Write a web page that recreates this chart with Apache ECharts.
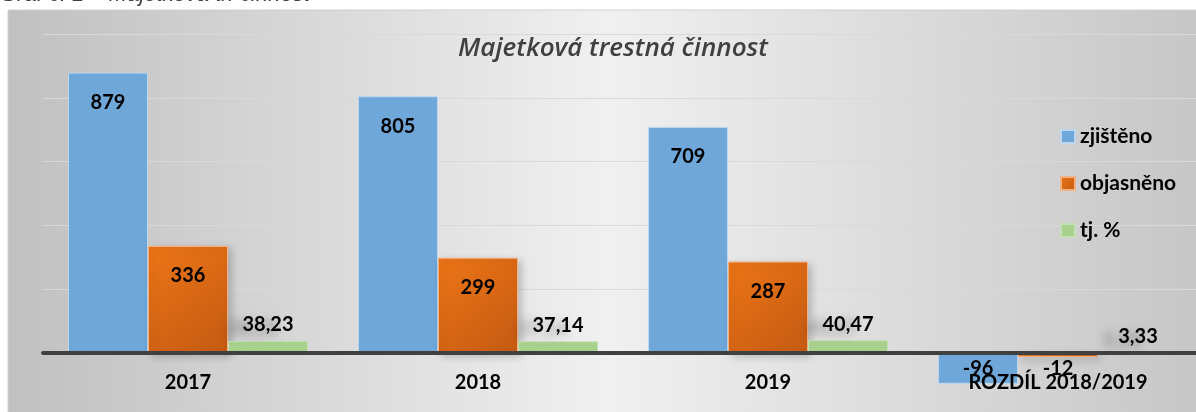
<!DOCTYPE html>
<html>
<head>
<meta charset="utf-8">
<script src="https://cdn.jsdelivr.net/npm/echarts@6/dist/echarts.min.js"></script>
<style>
  html, body { margin: 0; padding: 0; background: #fff; overflow: hidden; }
  #chart { width: 1196px; height: 412px; }
</style>
</head>
<body>
<div id="chart"></div>
<script>
    var categories = ['2017', '2018', '2019', 'ROZDÍL 2018/2019'];
    var seriesNames = ['zjištěno', 'objasněno', 'tj. %'];
    var zjisteno = [879, 805, 709, -96];
    var objasneno = [336, 299, 287, -12];
    var procenta = [38.23, 37.14, 40.47, 3.33];
    var yTicks = { min: -200, max: 1000, interval: 200 };

    var myChart = echarts.init(document.getElementById('chart'));

    var labelFont = { fontFamily: 'Lato', fontWeight: 'bold', fontSize: 20, color: '#000' };

    //zaporne hodnoty maji popisek hned pod osou
    function barData(arr) {
        return arr.map(function (v) {
            if (v < 0) {
                return { value: v, label: { position: 'insideTop', distance: 5 } };
            }
            return v;
        });
    }

    var option = {
        animation: false,
        graphic: [
            {
                type: 'rect',
                z: -10,
                shape: { x: 8, y: 10, width: 1200, height: 410 },
                style: {
                    fill: new echarts.graphic.LinearGradient(0, 0, 1, 0, [
                        { offset: 0, color: '#c0c0c0' },
                        { offset: 0.5, color: '#f0f0f0' },
                        { offset: 1, color: '#c6c6c6' }
                    ]),
                    stroke: '#d0d0d0',
                    lineWidth: 1
                }
            },
            {
                type: 'text',
                left: 0,
                top: -16,
                style: {
                    text: 'Graf č. 1 – Majetková tr. činnost',
                    font: 'italic 22px "Liberation Sans"',
                    fill: '#404040'
                }
            }
        ],
        title: {
            text: 'Majetková trestná činnost',
            left: 608,
            top: 31,
            textAlign: 'center',
            textStyle: {
                fontFamily: 'Open Sans',
                fontStyle: 'italic',
                fontWeight: 600,
                fontSize: 26,
                color: '#404040'
            }
        },
        legend: {
            orient: 'vertical',
            left: 1055,
            top: 121,
            itemWidth: 14,
            itemHeight: 13,
            itemGap: 26,
            icon: 'rect',
            data: seriesNames,
            textStyle: { fontFamily: 'Lato', fontWeight: 'bold', fontSize: 21, color: '#000', lineHeight: 20 }
        },
        grid: { left: 43, right: -7, top: 34, bottom: -5, containLabel: false, outerBoundsMode: 'none' },
        xAxis: {
            type: 'category',
            z: 5,
            data: categories,
            axisLine: { onZero: true, lineStyle: { color: '#404040', width: 4 } },
            axisTick: { show: false },
            //popisky se kresli od spodku gridu, ktery je mimo obrazek
            axisLabel: { margin: -44, fontFamily: 'Lato', fontWeight: 'bold', fontSize: 20, color: '#000', interval: 0 }
        },
        yAxis: {
            type: 'value',
            min: yTicks.min,
            max: yTicks.max,
            interval: yTicks.interval,
            axisLabel: { show: false },
            axisLine: { show: false },
            axisTick: { show: false },
            splitLine: { lineStyle: { color: '#d9d9d9', width: 1 } }
        },
        series: [
            {
                name: seriesNames[0],
                type: 'bar',
                barWidth: 80,
                barGap: '0%',
                data: barData(zjisteno),
                itemStyle: { color: '#6fa7d9', borderColor: '#bdd7ee', borderWidth: 1 },
                label: { show: true, position: 'insideTop', distance: 20, textStyle: labelFont }
            },
            {
                name: seriesNames[1],
                type: 'bar',
                barWidth: 80,
                barGap: '0%',
                data: barData(objasneno),
                itemStyle: {
                    color: new echarts.graphic.LinearGradient(0, 0, 1, 1, [
                        { offset: 0, color: '#ec7517' },
                        { offset: 1, color: '#c45a12' }
                    ]),
                    borderColor: '#f4b183',
                    borderWidth: 1,
                    shadowColor: 'rgba(0,0,0,0.2)',
                    shadowBlur: 8,
                    shadowOffsetX: 3,
                    shadowOffsetY: 3
                },
                label: { show: true, position: 'insideTop', distance: 20, textStyle: labelFont }
            },
            {
                name: seriesNames[2],
                type: 'bar',
                barWidth: 80,
                barGap: '0%',
                data: procenta,
                itemStyle: { color: '#a9d18e', borderColor: '#c5e0b4', borderWidth: 1 },
                label: {
                    show: true,
                    position: 'top',
                    distance: 6,
                    textStyle: labelFont,
                    textShadowColor: 'rgba(0,0,0,0.3)',
                    textShadowBlur: 8,
                    textShadowOffsetX: -16,
                    textShadowOffsetY: 4,
                    formatter: function (p) {
                        return p.value.toFixed(2).replace('.', ',');
                    }
                }
            }
        ],
        color: ['#6fa7d9', '#d9661a', '#a9d18e']
    };

    myChart.setOption(option);
</script>
</body>
</html>
